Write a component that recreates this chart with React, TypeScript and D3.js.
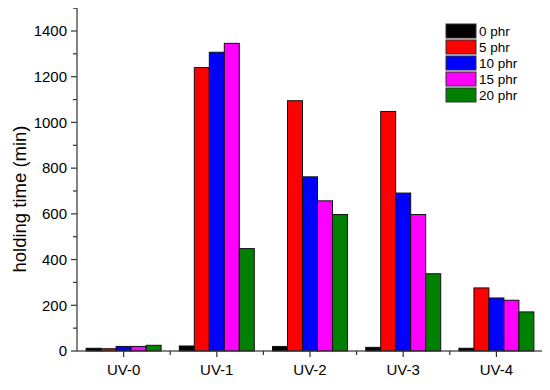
import React from "react";
import * as d3 from "d3";

const categories = ["UV-0", "UV-1", "UV-2", "UV-3", "UV-4"];
const seriesNames = ["0 phr", "5 phr", "10 phr", "15 phr", "20 phr"];
const seriesColors = ["#000000", "#ff0000", "#0000ff", "#ff00ff", "#008000"];
const s0 = [12, 22, 20, 16, 12];
const s5 = [10, 1240, 1095, 1048, 276];
const s10 = [20, 1307, 762, 691, 232];
const s15 = [20, 1346, 657, 597, 222];
const s20 = [25, 448, 597, 338, 171];
const seriesValues = [s0, s5, s10, s15, s20];
const yMajorTicks = [0, 200, 400, 600, 800, 1000, 1200, 1400];
const yMinorTicks = [100, 300, 500, 700, 900, 1100, 1300, 1500];

const W = 550, H = 390;
const L = 77, R = 543, T = 7, B = 351;
const FONT = "Arial, 'Liberation Sans', sans-serif";

export default function App() {
  const x = d3.scaleBand<string>().domain(categories).range([L, R]).padding(0);
  const inner = d3.scaleBand<string>().domain(seriesNames).range([0, 75]).padding(0);
  const y = d3.scaleLinear().domain([0, 1505]).range([B, T]);
  const bw = x.bandwidth();
  const groupOffset = (bw - 75) / 2;
  const boundaries = categories.slice(1).map((c) => x(c)!);

  return (
    <div style={{ margin: -8 }}>
      <svg width={W} height={H} style={{ display: "block", background: "#fff" }}>
        {categories.map((c, ci) => (
          <g key={c}>
            {seriesNames.map((s, si) => {
              const v = seriesValues[si][ci];
              const bx = x(c)! + groupOffset + inner(s)!;
              return (
                <rect key={s} x={bx} y={y(v)} width={inner.bandwidth()} height={B - y(v)}
                  fill={seriesColors[si]} stroke="#111" strokeWidth={1} />
              );
            })}
          </g>
        ))}
        <rect x={L} y={T} width={R - L} height={B - T} fill="none" stroke="#333" strokeWidth={1.2} />
        {yMajorTicks.map((t) => (
          <g key={t}>
            <line x1={L - 6} x2={L} y1={y(t)} y2={y(t)} stroke="#333" strokeWidth={1.2} />
            <text x={L - 10} y={y(t)} dy="0.35em" textAnchor="end" fontSize={15} fontFamily={FONT} fill="#000">{t}</text>
          </g>
        ))}
        {yMinorTicks.map((t) => (
          <line key={t} x1={L - 4} x2={L} y1={y(t)} y2={y(t)} stroke="#333" strokeWidth={1.2} />
        ))}
        {categories.map((c) => (
          <g key={c}>
            <line x1={x(c)! + bw / 2} x2={x(c)! + bw / 2} y1={B} y2={B + 6} stroke="#333" strokeWidth={1.2} />
            <text x={x(c)! + bw / 2} y={375} textAnchor="middle" fontSize={15} fontFamily={FONT} fill="#000">{c}</text>
          </g>
        ))}
        {boundaries.map((b, i) => (
          <line key={i} x1={b} x2={b} y1={B} y2={B + 4} stroke="#333" strokeWidth={1.2} />
        ))}
        <text transform={`translate(26,199) rotate(-90)`} textAnchor="middle" fontSize={18.5} fontFamily={FONT} fill="#000">holding time (min)</text>
        {seriesNames.map((s, i) => (
          <g key={s}>
            <rect x={446} y={24 + i * 16} width={30} height={14} fill={seriesColors[i]} stroke="#333" strokeWidth={1} />
            <text x={479} y={31 + i * 16} dy="0.35em" fontSize={13.5} fontFamily={FONT} fill="#000">{s}</text>
          </g>
        ))}
      </svg>
    </div>
  );
}
